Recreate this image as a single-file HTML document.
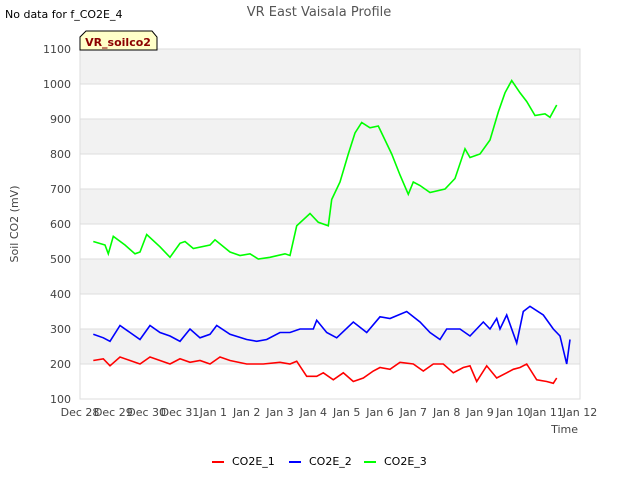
<!DOCTYPE html>
<html><head><meta charset="utf-8"><style>
body{margin:0;background:#fff;font-family:"Liberation Sans","DejaVu Sans",sans-serif}
svg text{font-family:"DejaVu Sans","Liberation Sans",sans-serif}
</style></head><body>
<svg width="640" height="480" viewBox="0 0 640 480">
<g id="bands"></g><g id="grid"></g><g id="series"></g><g id="ticks"></g>
<text x="5" y="18" font-size="11" fill="#000">No data for f_CO2E_4</text>
<text x="319" y="16" font-size="13" fill="#555" text-anchor="middle">VR East Vaisala Profile</text>
<text x="18" y="224" font-size="11" fill="#444" text-anchor="middle" transform="rotate(-90 18 224)">Soil CO2 (mV)</text>
<text x="578" y="433" font-size="11" fill="#444" text-anchor="end">Time</text>
<g>
<path d="M80,50 L80,37 L86,31 L152,31 L157,37 L157,50 Z" fill="#ffffc8" stroke="#000" stroke-width="1"/>
<text x="118" y="46" font-size="11" font-weight="bold" fill="#8b0000" text-anchor="middle">VR_soilco2</text>
</g>
<g>
<g><line x1="212" y1="462" x2="224" y2="462" stroke="#f00" stroke-width="2"/><text x="232" y="465" font-size="11">CO2E_1</text></g>
<g><line x1="289" y1="462" x2="301" y2="462" stroke="#00f" stroke-width="2"/><text x="309" y="465" font-size="11">CO2E_2</text></g>
<g><line x1="364" y1="462" x2="376" y2="462" stroke="#0f0" stroke-width="2"/><text x="384" y="465" font-size="11">CO2E_3</text></g>
</g>
</svg>
<script>
const xTickLabels=["Dec 28","Dec 29","Dec 30","Dec 31","Jan 1","Jan 2","Jan 3","Jan 4","Jan 5","Jan 6","Jan 7","Jan 8","Jan 9","Jan 10","Jan 11","Jan 12"];
const yTicks=[100,200,300,400,500,600,700,800,900,1000,1100];
const co2e3Days=[0.4,0.75,0.85,1.0,1.35,1.65,1.8,2.0,2.4,2.7,3.0,3.15,3.4,3.9,4.05,4.5,4.8,5.1,5.35,5.7,6.15,6.3,6.5,6.9,7.15,7.45,7.55,7.8,8.05,8.25,8.45,8.7,8.95,9.15,9.35,9.6,9.85,10.0,10.2,10.5,10.95,11.25,11.55,11.7,12.0,12.3,12.55,12.75,12.95,13.2,13.4,13.65,13.95,14.1,14.3];
const co2e3Vals=[550,540,515,565,540,515,520,570,535,505,545,550,530,540,555,520,510,515,500,505,515,510,595,630,605,595,670,720,800,860,890,875,880,840,800,740,685,720,710,690,700,730,815,790,800,840,920,975,1010,975,950,910,915,905,940];
const co2e2Days=[0.4,0.7,0.9,1.2,1.5,1.8,2.1,2.4,2.7,3.0,3.3,3.6,3.9,4.1,4.5,5.0,5.3,5.6,6.0,6.3,6.6,7.0,7.1,7.4,7.7,8.2,8.6,9.0,9.3,9.8,10.2,10.5,10.8,11.0,11.4,11.7,12.1,12.3,12.5,12.6,12.8,13.1,13.3,13.5,13.9,14.2,14.4,14.6,14.7];
const co2e2Vals=[285,275,265,310,290,270,310,290,280,265,300,275,285,310,285,270,265,270,290,290,300,300,325,290,275,320,290,335,330,350,320,290,270,300,300,280,320,300,330,300,340,260,350,365,340,300,280,200,270];
const co2e1Days=[0.4,0.7,0.9,1.2,1.5,1.8,2.1,2.4,2.7,3.0,3.3,3.6,3.9,4.2,4.5,5.0,5.5,6.0,6.3,6.5,6.8,7.1,7.3,7.6,7.9,8.2,8.5,8.8,9.0,9.3,9.6,10.0,10.3,10.6,10.9,11.2,11.5,11.7,11.9,12.2,12.5,12.8,13.0,13.2,13.4,13.7,14.0,14.2,14.3];
const co2e1Vals=[210,215,195,220,210,200,220,210,200,215,205,210,200,220,210,200,200,205,200,208,165,165,175,155,175,150,160,180,190,185,205,200,180,200,200,175,190,195,150,195,160,175,185,190,200,155,150,145,160];
const X0=80,X1=580,Y0=399,Y1=49,NS="http://www.w3.org/2000/svg";
const xs=d=>X0+d*(X1-X0)/15, ys=v=>Y0-(v-100)*(Y0-Y1)/1000;
function mk(tag,attrs,parent){const e=document.createElementNS(NS,tag);for(const k in attrs)e.setAttribute(k,attrs[k]);document.getElementById(parent).appendChild(e);return e;}
for(let i=0;i<yTicks.length-1;i++){if(i%2===1){const r=mk('rect',{x:X0,y:ys(yTicks[i+1]),width:X1-X0,height:ys(yTicks[i])-ys(yTicks[i+1]),fill:'#f2f2f2'},'bands');

}}
yTicks.forEach(v=>{const l=mk('line',{x1:X0,x2:X1,y1:ys(v),y2:ys(v),stroke:'#ddd'},'grid');


const t=mk('text',{x:X0-9,y:ys(v)+4,'font-size':11,fill:'#444','text-anchor':'end'},'ticks');t.textContent=v;

});
xTickLabels.forEach((s,i)=>{const t=mk('text',{x:xs(i),y:416,'font-size':11,fill:'#444','text-anchor':'middle'},'ticks');t.textContent=s;

});
const fr=mk('rect',{x:X0,y:Y1,width:X1-X0,height:Y0-Y1,fill:'none',stroke:'#ddd'},'grid');


[[co2e1Days,co2e1Vals,'#f00','co2e-1-line'],[co2e2Days,co2e2Vals,'#00f','co2e-2-line'],[co2e3Days,co2e3Vals,'#0f0','co2e-3-line']].forEach(([d,v,c,n])=>{
const p=mk('polyline',{points:d.map((x,i)=>xs(x).toFixed(1)+','+ys(v[i]).toFixed(1)).join(' '),fill:'none',stroke:c,'stroke-width':1.6},'series');

});
</script>
</body></html>
